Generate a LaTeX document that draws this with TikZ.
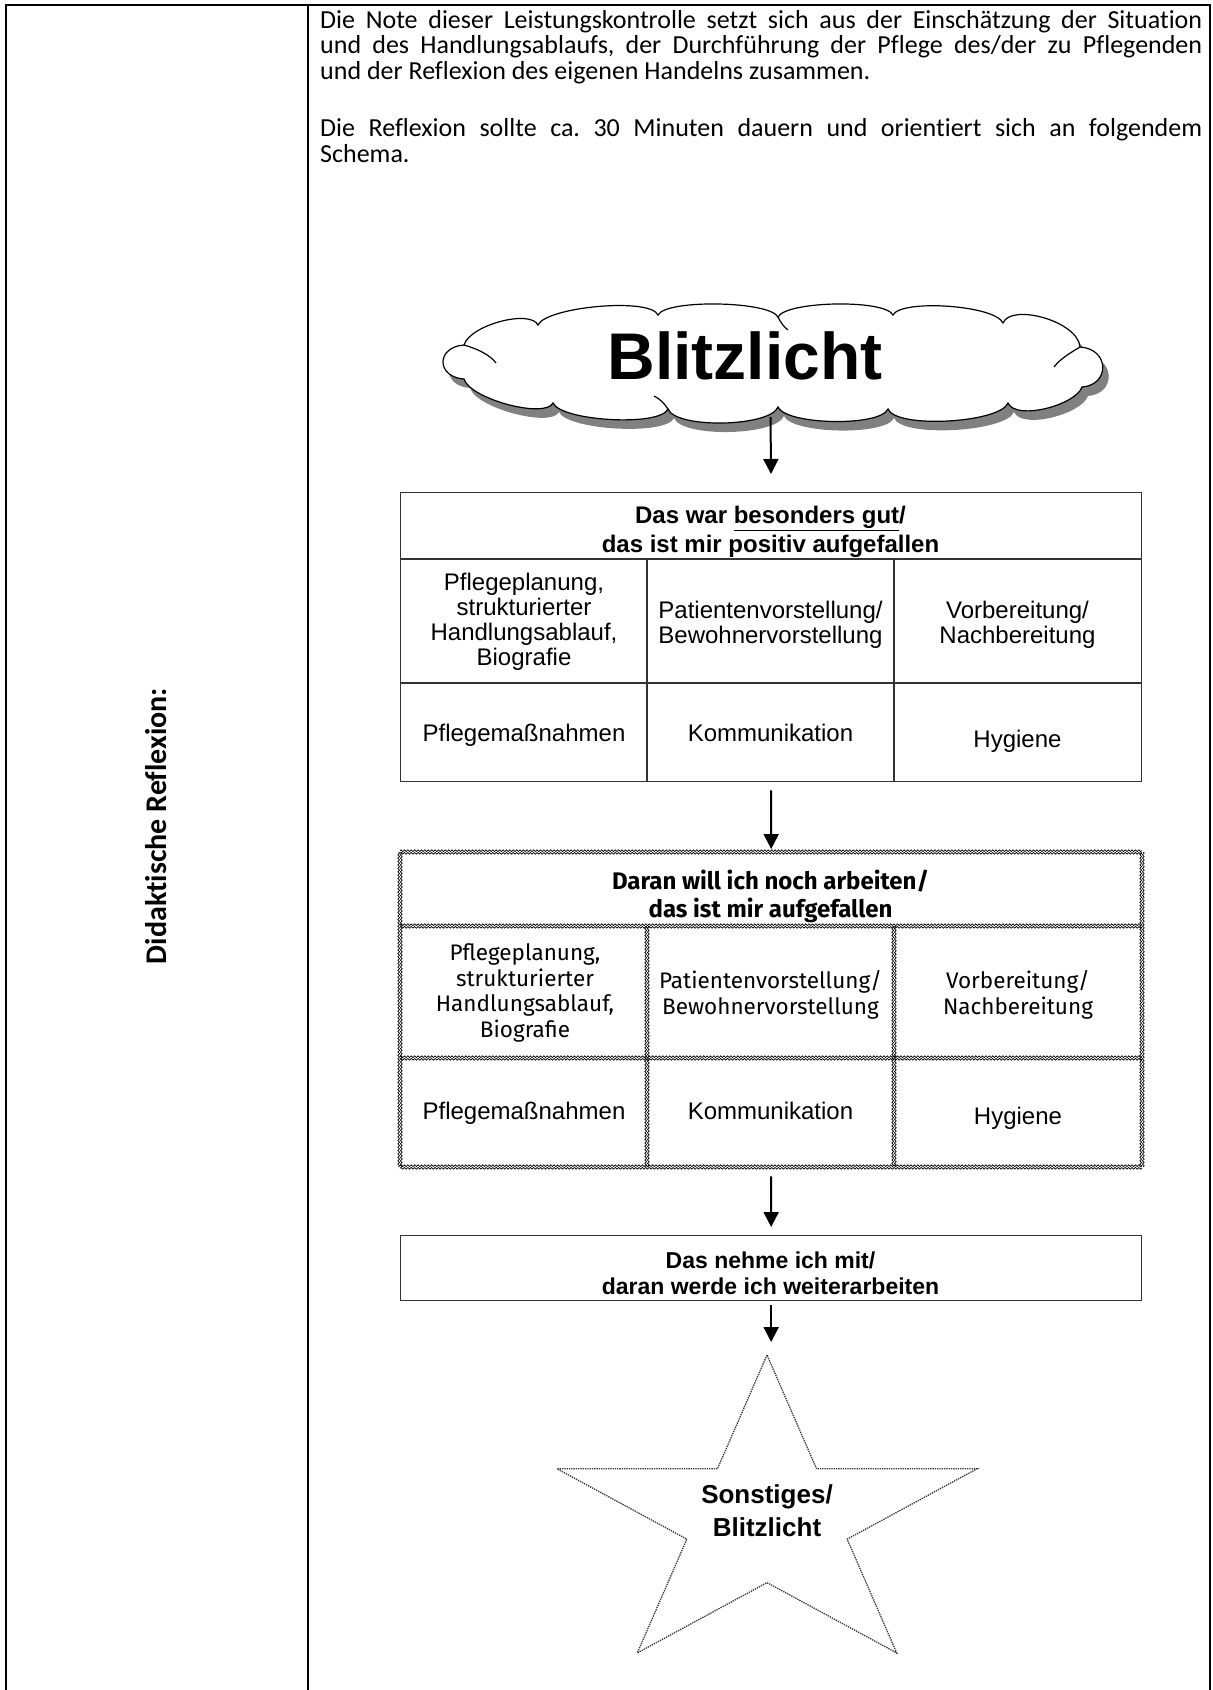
\documentclass[tikz,border=0pt]{standalone}
\usepackage{fontspec}
\setmainfont{Carlito}[Ligatures=NoCommon]
\newfontfamily\arialfont{Liberation Sans}
\newfontfamily\dinfont{Fira Sans}
\usetikzlibrary{arrows.meta,decorations.pathmorphing}

\newcommand\cloudoutline{(456,338) .. controls (462,318) and (522,302) .. (530,318)
    .. controls (538,300) and (642,290) .. (650,308)
    .. controls (658,292) and (762,294) .. (770,310)
    .. controls (778,294) and (877,292) .. (885,308)
    .. controls (893,292) and (987,298) .. (995,316)
    .. controls (1003,296) and (1070,314) .. (1072,340)
    .. controls (1102,342) and (1102,378) .. (1074,380)
    .. controls (1068,398) and (1008,414) .. (1000,396)
    .. controls (992,416) and (888,422) .. (880,402)
    .. controls (872,420) and (778,418) .. (770,400)
    .. controls (762,420) and (668,422) .. (660,402)
    .. controls (652,420) and (553,414) .. (545,396)
    .. controls (537,412) and (462,392) .. (456,372)
    .. controls (428,370) and (428,340) .. (456,338) -- cycle}

\begin{document}
\begin{tikzpicture}[x=1pt, y=-1pt,
    every node/.style={inner sep=0pt, align=center},
    frame/.style={line width=2.6pt},
    cellline/.style={line width=1.3pt, draw=black!80},
    wavy/.style={line width=0.7pt, decorate, decoration={snake, amplitude=0.9pt, segment length=3.4pt}},
    flow/.style={line width=2pt, -{Triangle[width=15pt, length=15pt]}},
    starline/.style={line width=1.3pt, densely dotted, draw=black!80},
    head/.style={font=\arialfont\bfseries\fontsize{24}{29}\selectfont},
    cell/.style={font=\arialfont\fontsize{24}{25}\selectfont},
    dinhead/.style={font=\dinfont\bfseries\fontsize{24}{28}\selectfont},
    dincell/.style={font=\dinfont\fontsize{22.5}{25.5}\selectfont}]
    \useasboundingbox (0,0) rectangle (1213,1690);

    \draw[frame] (6,1690) -- (6,5) -- (1210,5) -- (1210,1690);
    \draw[frame] (308,5) -- (308,1690);

    \node[rotate=90, font=\bfseries\fontsize{30}{33}\selectfont] (side) at (156,826) {Didaktische Reflexion:};

    \node[anchor=north west, text width=882pt, align=justify, font=\fontsize{26}{25.5}\selectfont] (intro) at (320,10)
        {\parindent=0pt \hyphenpenalty=10000 \tolerance=10000 \frenchspacing
        Die Note dieser Leistungskontrolle setzt sich aus der Einschätzung der Situation\linebreak
        und des Handlungsablaufs, der Durchführung der Pflege des/der zu Pflegenden\linebreak
        und der Reflexion des eigenen Handelns zusammen.\par\vskip 32pt
        Die Reflexion sollte ca. 30 Minuten dauern und orientiert sich an folgendem\linebreak
        Schema.};

    \begin{scope}[shift={(8,7)}]
        \fill[black!50, shift={(6,9)}] \cloudoutline;
        \draw[line width=1.2pt, fill=white] \cloudoutline;
        \draw[line width=1.2pt] (456,338) .. controls (470,342) and (482,348) .. (488,356)
            (770,310) .. controls (773,316) and (776,320) .. (780,323)
            (1072,340) .. controls (1062,346) and (1052,352) .. (1046,360)
            (660,402) .. controls (656,396) and (652,392) .. (646,389);
    \end{scope}
    \node[font=\arialfont\bfseries\fontsize{66}{66}\selectfont] (blitz) at (745,356) {Blitzlicht};
    \coordinate (cloudbase) at (770.5,413);

    \node[draw, cellline, minimum width=741pt, minimum height=289pt, anchor=north west] (tabA) at (400,492) {};
    \draw[cellline] (400,559) -- (1141,559) (400,683) -- (1141,683)
        (647,559) -- (647,781) (894,559) -- (894,781);
    \node[head] (headA) at (770.5,532) {Das war \underline{besonders gut}/\\das ist mir positiv aufgefallen};
    \node[cell] (planA) at (524,622) {Pflegeplanung,\\strukturierter\\Handlungsablauf,\\Biografie};
    \node[cell] (patA) at (770.5,625) {Patientenvorstellung/\\Bewohnervorstellung};
    \node[cell] (vorA) at (1017.5,625) {Vorbereitung/\\Nachbereitung};
    \node[cell] (massA) at (524,735) {Pflegemaßnahmen};
    \node[cell] (kommA) at (770.5,733) {Kommunikation};
    \node[cell] (hygA) at (1017.5,741) {Hygiene};

    \node[minimum width=742pt, minimum height=315pt, anchor=north west] (tabB) at (400,852) {};
    \foreach \yy in {852,926,1058,1167}
        \foreach \o in {-1.3,1.3}
            \draw[wavy] (400,{\yy+\o}) -- (1142,{\yy+\o});
    \foreach \xx in {400,1142}
        \foreach \o in {-1.3,1.3}
            \draw[wavy] ({\xx+\o},852) -- ({\xx+\o},1167);
    \foreach \xx in {647,894}
        \foreach \o in {-1.3,1.3}
            \draw[wavy] ({\xx+\o},926) -- ({\xx+\o},1167);
    \node[dinhead] (headB) at (770.5,896) {Daran will ich noch arbeiten/\\das ist mir aufgefallen};
    \node[dincell] (planB) at (525,993) {Pflegeplanung,\\strukturierter\\Handlungsablauf,\\Biografie};
    \node[dincell] (patB) at (770.5,995) {Patientenvorstellung/\\Bewohnervorstellung};
    \node[dincell] (vorB) at (1018,995) {Vorbereitung/\\Nachbereitung};
    \node[cell] (massB) at (524,1113) {Pflegemaßnahmen};
    \node[cell] (kommB) at (770.5,1111) {Kommunikation};
    \node[cell] (hygB) at (1018,1118) {Hygiene};

    \node[draw, cellline, minimum width=741pt, minimum height=65pt, anchor=north west] (takeC) at (400,1235) {};
    \node[head, font=\arialfont\bfseries\fontsize{23}{26}\selectfont] (takeTxt) at (770.5,1273)
        {Das nehme ich mit/\\daran werde ich weiterarbeiten};

    \coordinate (startip) at (767,1355);
    \draw[starline] (startip) \foreach[evaluate=\i as \rr using {ifthenelse(mod(\i,2)==1,62.9,164.7)}] \i in {1,...,9}
        { -- ({767+1.34*\rr*cos(90+36*\i)},{1519.7-\rr*sin(90+36*\i)}) } -- cycle;
    \node[font=\arialfont\bfseries\fontsize{26}{33}\selectfont] (star) at (767,1511) {Sonstiges/\\Blitzlicht};

    \draw[flow, shorten <=4pt, shorten >=18pt] (cloudbase) -- (tabA.north);
    \draw[flow, shorten <=8pt, shorten >=3pt] (tabA.south) -- (tabB.north);
    \draw[flow, shorten <=9pt, shorten >=8pt] (tabB.south) -- (takeC.north);
    \draw[flow, shorten <=4pt, shorten >=13pt] (takeC.south) -- (takeC.south |- startip);
\end{tikzpicture}
\end{document}
